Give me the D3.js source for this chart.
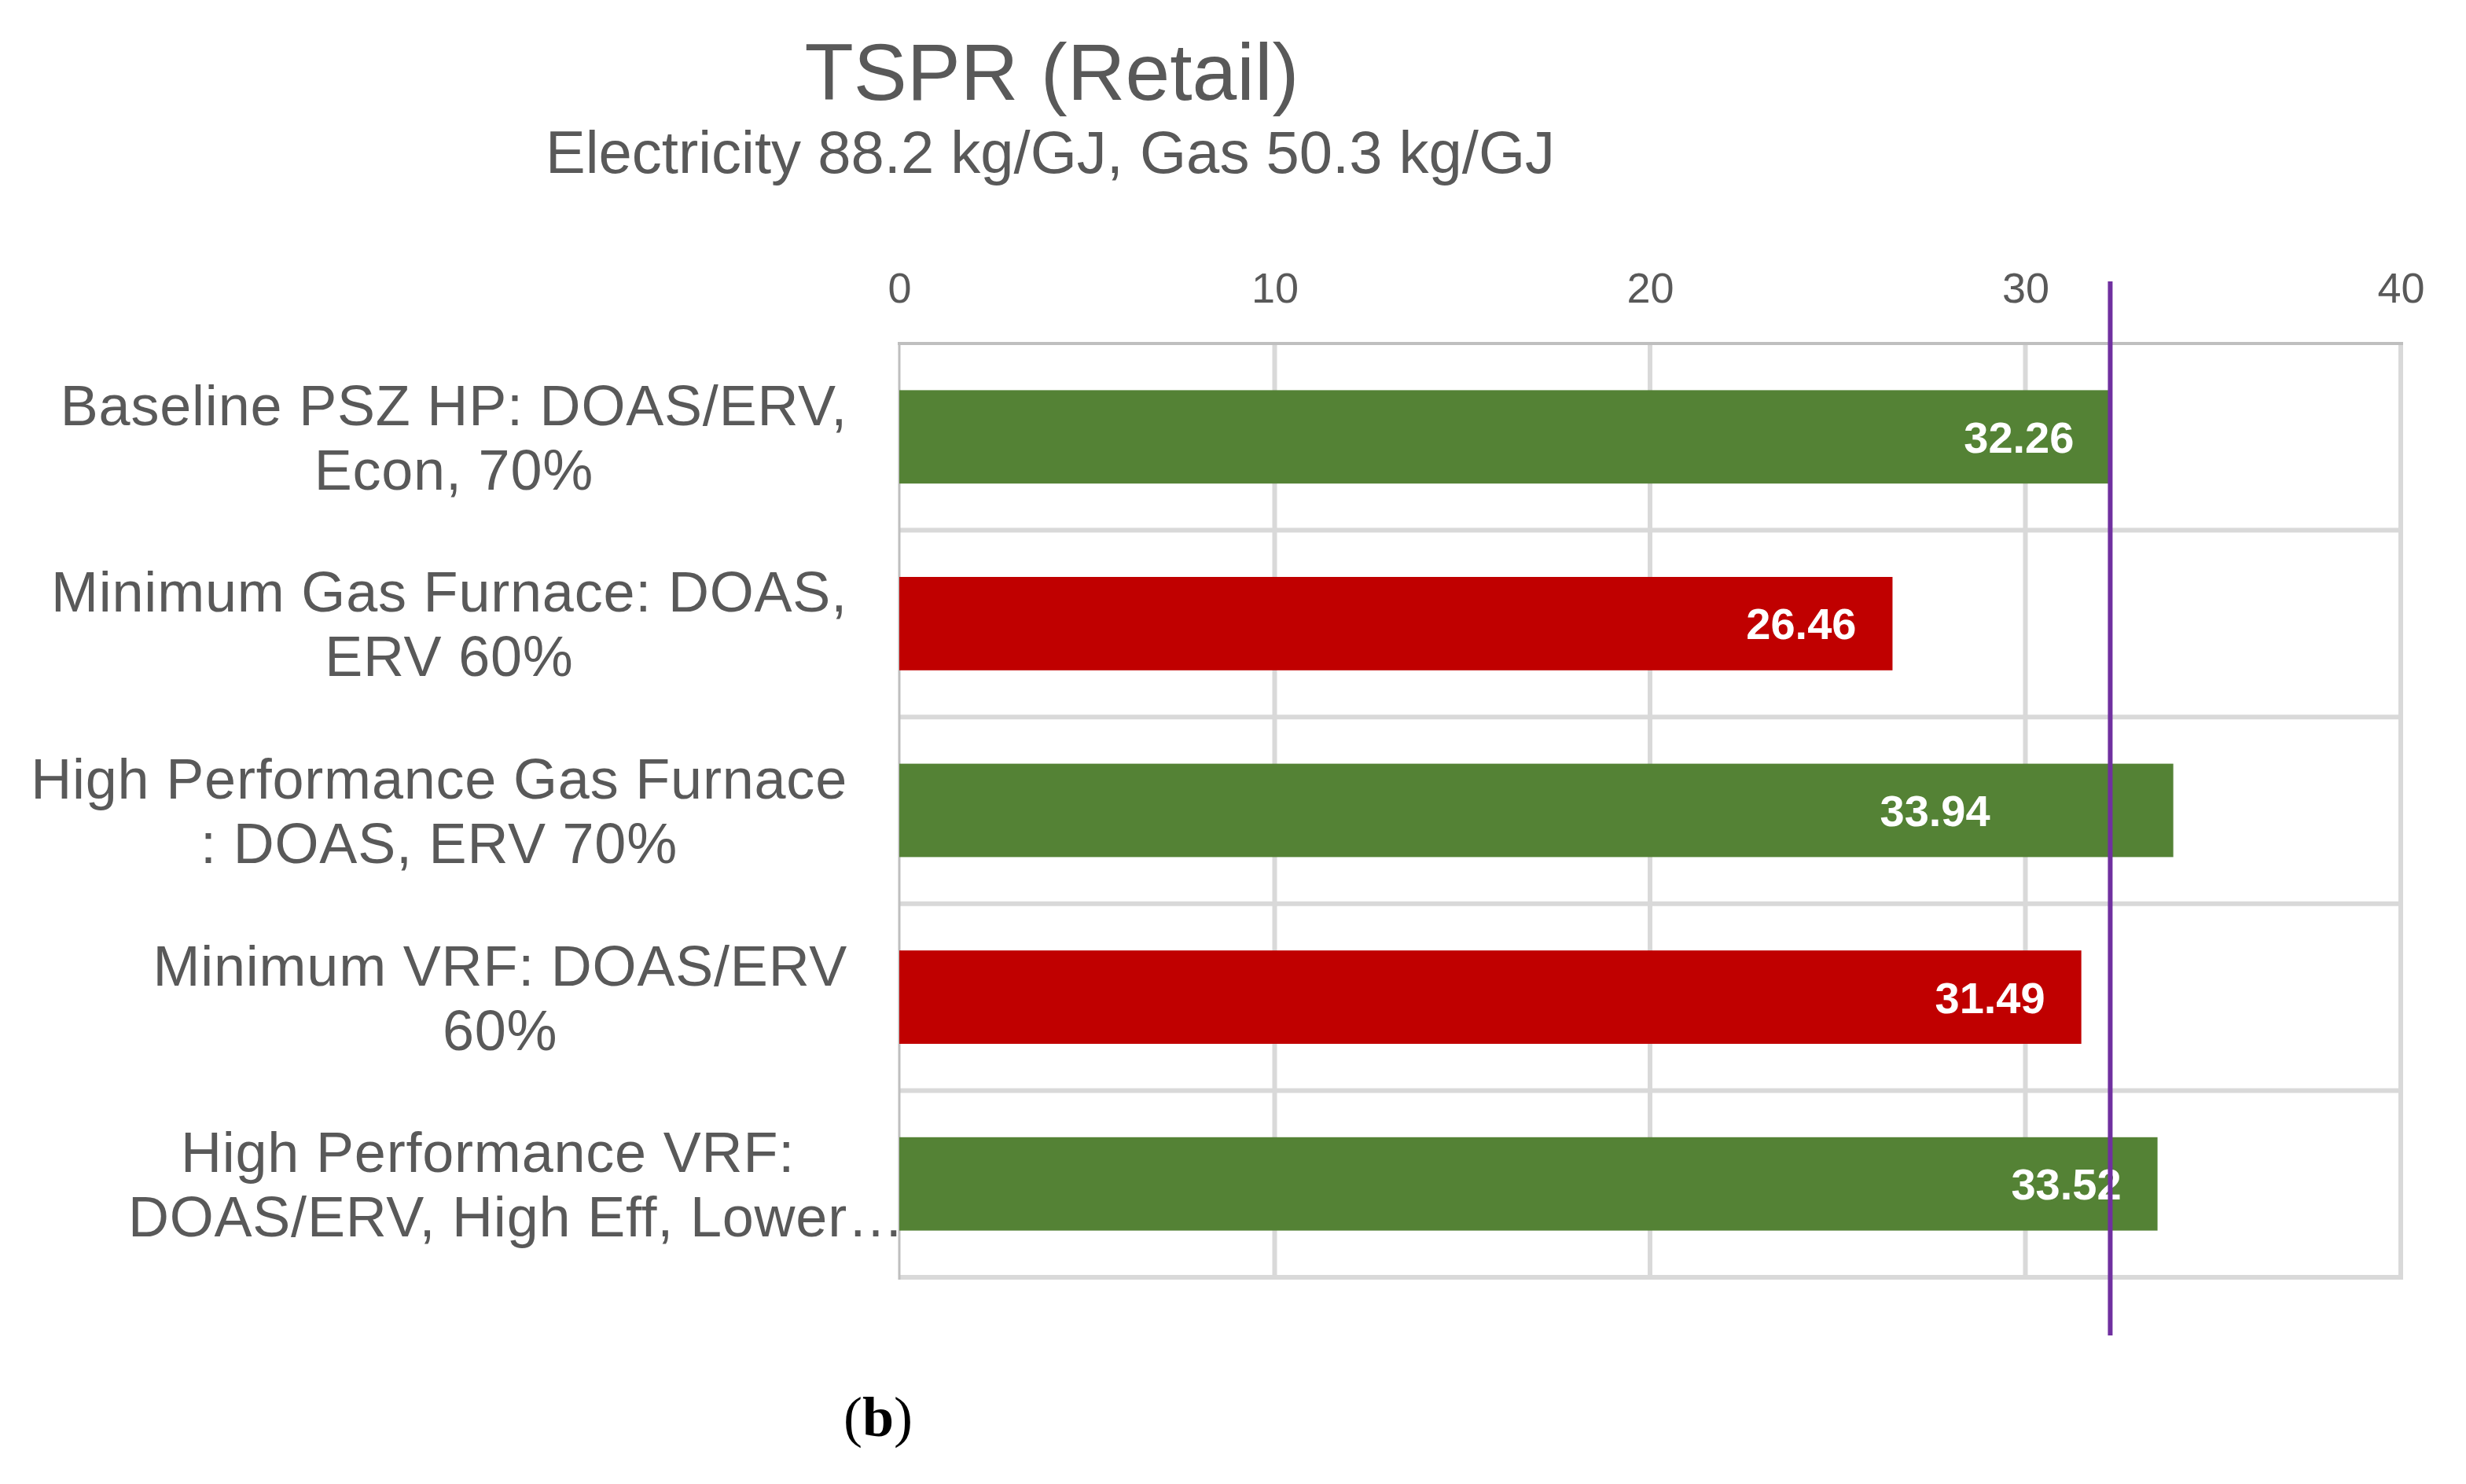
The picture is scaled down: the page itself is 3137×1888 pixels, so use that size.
<!DOCTYPE html>
<html>
<head>
<meta charset="utf-8">
<script src="https://cdn.jsdelivr.net/npm/d3@7"></script>
<style>
  body { margin: 0; background: #fff; }
  text { font-family: "Liberation Sans", Arial, sans-serif; }
</style>
</head>
<body>
<div id="chart"></div>
<script>
// data
var categories = ["Baseline", "MinGas", "HighGas", "MinVRF", "HighVRF"];
var labelLines = [
  ["Baseline PSZ HP: DOAS/ERV,", "Econ, 70%"],
  ["Minimum Gas Furnace: DOAS,", "ERV 60%"],
  ["High Performance Gas Furnace", ": DOAS, ERV 70%"],
  ["Minimum VRF: DOAS/ERV", "60%"],
  ["High Performance VRF:", "DOAS/ERV, High Eff, Lower\u2026"]
];
var values = [32.26, 26.46, 33.94, 31.49, 33.52];
var barColors = ["#548235", "#c00000", "#548235", "#c00000", "#548235"];
var xTicks = [0, 10, 20, 30, 40];
var baselineValue = 32.26;

var width = 3137, height = 1888;
var svg = d3.select("#chart").append("svg")
  .attr("width", width)
  .attr("height", height);

svg.append("rect").attr("width", width).attr("height", height).attr("fill", "#fff");

var x = d3.scaleLinear().domain([0, 40]).range([1144, 3054]);
var y = d3.scaleBand().domain(categories).range([437, 1625])
  .paddingInner(0.5).paddingOuter(0.25);
var step = y.step();

// titles
svg.append("text")
  .attr("x", 1338).attr("y", 127)
  .attr("text-anchor", "middle")
  .style("font-size", "102px")
  .attr("fill", "#595959")
  .text("TSPR (Retail)");
svg.append("text")
  .attr("x", 1336).attr("y", 220)
  .attr("text-anchor", "middle")
  .style("font-size", "76px")
  .attr("fill", "#595959")
  .text("Electricity 88.2 kg/GJ, Gas 50.3 kg/GJ");

// vertical gridlines
svg.selectAll(".vgrid")
  .data(xTicks.slice(1))
  .enter().append("line")
  .attr("x1", function (d) { return x(d); })
  .attr("x2", function (d) { return x(d); })
  .attr("y1", 437).attr("y2", 1628)
  .attr("stroke", "#d9d9d9").attr("stroke-width", 6);

// horizontal lines between categories
var bounds = categories.slice(1).map(function (c) { return y(c) - step * 0.25; });
bounds.push(1625);
svg.selectAll(".hgrid")
  .data(bounds)
  .enter().append("line")
  .attr("x1", 1144).attr("x2", 3057)
  .attr("y1", function (d) { return d; })
  .attr("y2", function (d) { return d; })
  .attr("stroke", "#d9d9d9").attr("stroke-width", 6);

// axis lines (top and left)
svg.append("line").attr("x1", 1142).attr("x2", 3057).attr("y1", 437).attr("y2", 437)
  .attr("stroke", "#bfbfbf").attr("stroke-width", 4);
svg.append("line").attr("x1", 1144).attr("x2", 1144).attr("y1", 435).attr("y2", 1628)
  .attr("stroke", "#bfbfbf").attr("stroke-width", 3);

// tick labels on top
var xAxis = d3.axisTop(x).tickValues(xTicks).tickSize(0).tickPadding(0);
var gx = svg.append("g").attr("transform", "translate(0,385)").call(xAxis);
gx.select(".domain").remove();
gx.selectAll("text")
  .attr("dy", 0)
  .style("font-family", "Liberation Sans, Arial, sans-serif")
  .style("font-size", "54px")
  .attr("fill", "#595959");

// bars
svg.selectAll(".bar")
  .data(values)
  .enter().append("rect")
  .attr("x", x(0))
  .attr("y", function (d, i) { return y(categories[i]); })
  .attr("width", function (d) { return x(d) - x(0); })
  .attr("height", y.bandwidth())
  .attr("fill", function (d, i) { return barColors[i]; });

// value labels (the third one was nudged left of the purple line in the original)
var inset = function (i) { return i === 2 ? 233 : 46; };
svg.selectAll(".val")
  .data(values)
  .enter().append("text")
  .attr("x", function (d, i) { return x(d) - inset(i); })
  .attr("y", function (d, i) { return y(categories[i]) + y.bandwidth() / 2 + 20; })
  .attr("text-anchor", "end")
  .style("font-size", "56px")
  .style("font-weight", "bold")
  .attr("fill", "#fff")
  .text(function (d) { return d.toFixed(2); });

// category labels, each block right aligned, lines centred in block
var labelRight = 1078;
labelLines.forEach(function (lines, i) {
  var cy = y(categories[i]) + y.bandwidth() / 2;
  var g = svg.append("g");
  var nodes = lines.map(function (t, j) {
    return g.append("text")
      .attr("y", cy + (j === 0 ? -41 : 41) + 26)
      .style("font-size", "72px")
      .style("letter-spacing", "0.8px")
      .attr("fill", "#595959")
      .text(t);
  });
  // width without a trailing ellipsis
  var widths = nodes.map(function (n) {
    var t = n.text();
    if (t.slice(-1) === "\u2026") {
      return n.node().getSubStringLength(0, t.length - 1);
    }
    return n.node().getComputedTextLength();
  });
  var blockW = d3.max(widths);
  var cx = labelRight - blockW / 2;
  nodes.forEach(function (n, j) {
    n.attr("x", cx - widths[j] / 2);
  });
});

// baseline reference line
svg.append("line")
  .attr("x1", x(baselineValue)).attr("x2", x(baselineValue))
  .attr("y1", 358).attr("y2", 1699)
  .attr("stroke", "#7030a0").attr("stroke-width", 6);

// panel label
var lab = svg.append("text")
  .attr("x", 1117).attr("y", 1827)
  .attr("text-anchor", "middle")
  .style("font-family", "Liberation Serif, Times New Roman, serif")
  .style("font-size", "72px")
  .attr("fill", "#000");
lab.append("tspan").text("(");
lab.append("tspan").style("font-weight", "bold").text("b");
lab.append("tspan").text(")");
</script>
</body>
</html>
